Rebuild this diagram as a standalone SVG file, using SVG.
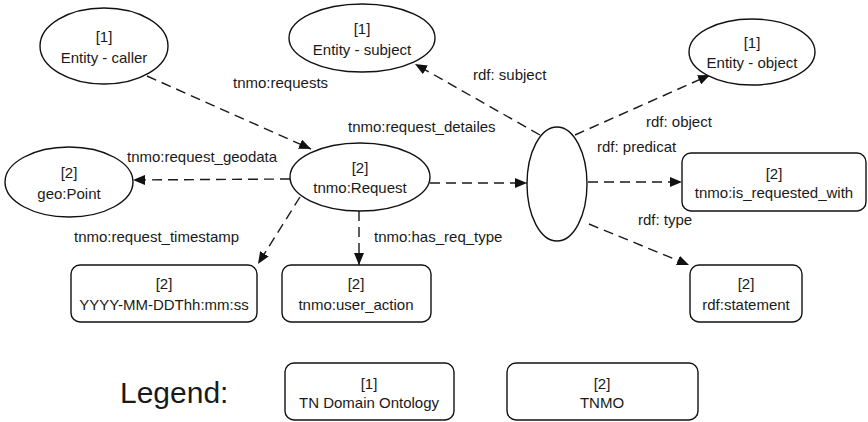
<svg xmlns="http://www.w3.org/2000/svg" width="868" height="422" viewBox="0 0 868 422">
  <style>
    .shape { fill: #ffffff; stroke: #111111; stroke-width: 1.4; }
    .label { font-family: "Liberation Sans", Arial, sans-serif; font-size: 15px; fill: #1a1a1a; }
    .mid { text-anchor: middle; }
    .edge { fill: none; stroke: #1a1a1a; stroke-width: 1.4; stroke-dasharray: 10 6; }
    .legend-title { font-family: "Liberation Sans", Arial, sans-serif; font-size: 30px; fill: #1a1a1a; }
  </style>
  <defs>
    <marker id="arrow" viewBox="0 0 12 10" refX="12" refY="5" markerWidth="12" markerHeight="10" markerUnits="userSpaceOnUse" orient="auto">
      <path d="M0,0 L12,5 L0,10 z" fill="#111111" stroke="none"/>
    </marker>
  </defs>

  <rect width="868" height="422" fill="#ffffff"/>

  <!-- connectors -->
  <g id="connectors">
    <line class="edge" x1="147" y1="76" x2="311" y2="149" marker-end="url(#arrow)"/>
    <line class="edge" x1="290" y1="179" x2="133" y2="180" marker-end="url(#arrow)"/>
    <line class="edge" x1="300" y1="197" x2="258" y2="264" marker-end="url(#arrow)"/>
    <line class="edge" x1="359" y1="211" x2="359" y2="265" marker-end="url(#arrow)"/>
    <line class="edge" x1="430" y1="183" x2="527" y2="183" marker-end="url(#arrow)"/>
    <line class="edge" x1="540" y1="135" x2="415" y2="64" marker-end="url(#arrow)"/>
    <line class="edge" x1="575" y1="135" x2="710" y2="75" marker-end="url(#arrow)"/>
    <line class="edge" x1="588" y1="182" x2="682" y2="182" marker-end="url(#arrow)"/>
    <line class="edge" x1="589" y1="224" x2="689" y2="265" marker-end="url(#arrow)"/>

    <text class="label" x="233" y="88">tnmo:requests</text>
    <text class="label" x="473" y="80">rdf: subject</text>
    <text class="label" x="348" y="132">tnmo:request_detailes</text>
    <text class="label" x="646" y="127">rdf: object</text>
    <text class="label" x="127" y="162">tnmo:request_geodata</text>
    <text class="label" x="597" y="152">rdf: predicat</text>
    <text class="label" x="74" y="242">tnmo:request_timestamp</text>
    <text class="label" x="374" y="242">tnmo:has_req_type</text>
    <text class="label" x="638" y="225">rdf: type</text>
  </g>

  <!-- nodes -->
  <g id="entity-caller">
    <ellipse class="shape" cx="104" cy="46" rx="64" ry="38"/>
    <text class="label mid" x="104" y="42">[1]</text>
    <text class="label mid" x="104" y="63">Entity - caller</text>
  </g>
  <g id="entity-subject">
    <ellipse class="shape" cx="362" cy="38" rx="73" ry="34"/>
    <text class="label mid" x="362" y="34">[1]</text>
    <text class="label mid" x="362" y="55">Entity - subject</text>
  </g>
  <g id="entity-object">
    <ellipse class="shape" cx="752" cy="52" rx="63" ry="33"/>
    <text class="label mid" x="752" y="48">[1]</text>
    <text class="label mid" x="752" y="68">Entity - object</text>
  </g>
  <g id="geo-point">
    <ellipse class="shape" cx="69" cy="182" rx="64" ry="35"/>
    <text class="label mid" x="69" y="178">[2]</text>
    <text class="label mid" x="69" y="199">geo:Point</text>
  </g>
  <g id="tnmo-request">
    <ellipse class="shape" cx="360" cy="177" rx="70" ry="34"/>
    <text class="label mid" x="360" y="173">[2]</text>
    <text class="label mid" x="360" y="193">tnmo:Request</text>
  </g>
  <g id="statement-blank">
    <ellipse class="shape" cx="557" cy="184" rx="30" ry="57"/>
  </g>
  <g id="is-requested-with">
    <rect class="shape" x="682" y="153" width="184" height="58" rx="9"/>
    <text class="label mid" x="774" y="179">[2]</text>
    <text class="label mid" x="774" y="198">tnmo:is_requested_with</text>
  </g>
  <g id="rdf-statement">
    <rect class="shape" x="690" y="265" width="112" height="57" rx="9"/>
    <text class="label mid" x="746" y="289">[2]</text>
    <text class="label mid" x="746" y="310">rdf:statement</text>
  </g>
  <g id="timestamp">
    <rect class="shape" x="71" y="265" width="186" height="57" rx="9"/>
    <text class="label mid" x="164" y="289">[2]</text>
    <text class="label mid" x="164" y="310">YYYY-MM-DDThh:mm:ss</text>
  </g>
  <g id="user-action">
    <rect class="shape" x="282" y="265" width="149" height="57" rx="9"/>
    <text class="label mid" x="356" y="289">[2]</text>
    <text class="label mid" x="356" y="310">tnmo:user_action</text>
  </g>

  <!-- legend -->
  <g id="legend">
    <text class="legend-title" x="120" y="403">Legend:</text>
    <g id="legend-tn-domain">
      <rect class="shape" x="285" y="363" width="169" height="57" rx="9"/>
      <text class="label mid" x="369" y="389">[1]</text>
      <text class="label mid" x="369" y="408">TN Domain Ontology</text>
    </g>
    <g id="legend-tnmo">
      <rect class="shape" x="507" y="363" width="191" height="57" rx="9"/>
      <text class="label mid" x="602" y="389">[2]</text>
      <text class="label mid" x="602" y="408">TNMO</text>
    </g>
  </g>
</svg>
